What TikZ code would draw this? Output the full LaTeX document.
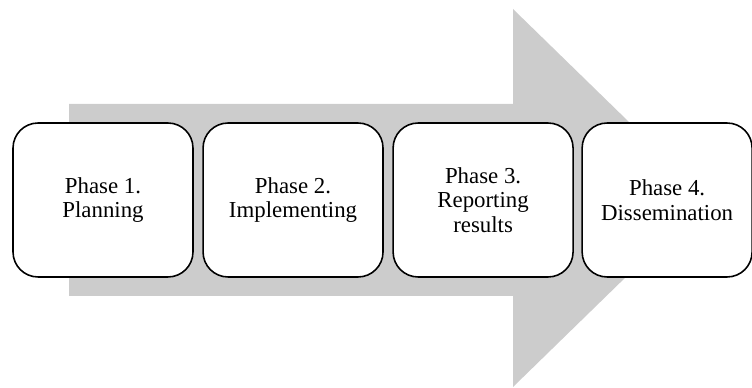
\documentclass[tikz,border=0pt]{standalone}
\usepackage{fontspec}
\setmainfont{Liberation Serif}
\usepackage{tikz}
\usetikzlibrary{positioning}
\definecolor{arrowgray}{RGB}{204,204,204}

\tikzset{
    phasebox/.style={draw=black, line width=0.9pt, rounded corners=0.5cm, fill=white,
        minimum width=3.6cm, minimum height=3.08cm, align=center,
        font=\fontsize{13}{14}\selectfont, inner sep=2pt},
}

\begin{document}
\begin{tikzpicture}[x=0.02cm, y=-0.02cm]
    \useasboundingbox (0,0) rectangle (752,388);

    % big process arrow behind the phases
    \fill[arrowgray] (69,104) -- (513,104) -- (513,9) -- (707,198)
        -- (513,387) -- (513,296) -- (69,296) -- cycle;

    % the four phases
    \node[phasebox] (plan) at (103,200) {Phase 1.\\ Planning};
    \node[phasebox, right=0.17cm of plan] (impl) {Phase 2.\\ Implementing};
    \node[phasebox, right=0.17cm of impl] (report) {Phase 3.\\ Reporting\\ results};
    \node[phasebox, minimum width=3.4cm, right=0.15cm of report] (dissem) {Phase 4.\\ Dissemination};
\end{tikzpicture}
\end{document}
